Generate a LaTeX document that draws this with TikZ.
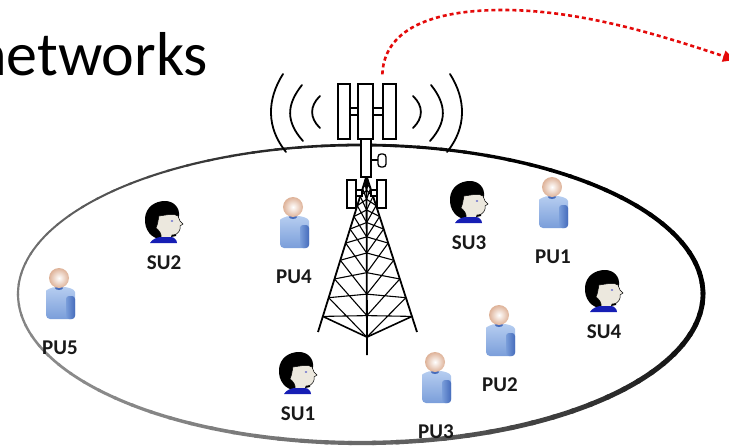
\documentclass[tikz,border=0pt]{standalone}
\usepackage{fontspec}
\setmainfont{Carlito}
\usetikzlibrary{calc,arrows.meta}

\definecolor{skin}{RGB}{236,232,222}
\definecolor{shirt}{RGB}{22,30,180}
\definecolor{pulight}{RGB}{182,205,240}
\definecolor{pumid}{RGB}{122,158,218}
\definecolor{pudark}{RGB}{70,108,188}
\definecolor{peach}{RGB}{222,178,152}
\definecolor{sigred}{RGB}{228,10,10}

\tikzset{
	panel/.style = {draw, fill=white, line width=1.3pt, inner sep=0pt},
	ulabel/.style = {font=\bfseries\fontsize{21}{22}\selectfont, text=black!90, inner sep=0pt},
	wave/.style = {line width=1.8pt, line cap=round},
	sigarrow/.style = {sigred, line width=2.6pt, dash pattern=on 4pt off 3pt,
		-{Triangle[length=12pt,width=11pt]}},
	% secondary user: head with black hair
	suicon/.pic = {
		\fill[black] (-3,17) .. controls (-12,17) and (-20,8) .. (-19,-4)
			.. controls (-18,-15) and (-9,-21) .. (1,-21)
			.. controls (10,-21) and (16,-14) .. (15,-6) -- (12,14) -- cycle;
		\filldraw[fill=skin, draw=black, line width=.5pt] (-5,-6)
			.. controls (3,-7) and (10,-9) .. (14,-6) -- (16,-1) -- (19,2) -- (16,4) -- (16,7)
			.. controls (15,11) and (12,13) .. (8,13) -- (7,16) -- (-3,16)
			.. controls (-2,12) and (-5,8) .. (-8,6) .. controls (-6,2) and (-6,-2) .. (-5,-6) -- cycle;
		\fill[shirt] (-14,21) .. controls (-12,17) and (-6,15) .. (-3,15) -- (7,15)
			.. controls (10,15) and (13,18) .. (13,21) -- cycle;
		\fill[shirt!70!white] (8,-1) ellipse (1.3 and .9);
	},
	% primary user: blue body, round head
	puicon/.pic = {
		\shade[top color=pulight, bottom color=pumid, rounded corners=4pt]
			(-13,41) -- (-13,17) .. controls (-13,12) and (-7,9) .. (1,9)
			.. controls (8,9) and (16,11) .. (16,18) -- (16,41) -- cycle;
		\shade[left color=pumid, right color=pudark, rounded corners=3pt] (7,18) rectangle (16,41);
		\fill[pudark] (0,10) ellipse (4 and 2);
		\shade[inner color=white, outer color=peach] (0,0) circle (10);
	}
}

\begin{document}
\begin{tikzpicture}[x=1pt, y=-1pt]
	\useasboundingbox (0,0) rectangle (729,447);
	\clip (0,0) rectangle (729,447);

	% coverage area, darker and thicker on the right
	\foreach \a in {0,4,...,356}{
		\pgfmathsetmacro\blk{min(100,75+25*cos(\a)+15*sin(\a))}
		\pgfmathsetmacro\lw{3.5+1.3*cos(\a)-0.8*sin(\a)}
		\draw[line width=\lw pt, black!\blk, line cap=round]
			plot[domain=\a:\a+4.5, samples=4] ({360.5+342.5*cos(\x)},{294-149*sin(\x)});
	}

	% radio waves around the antenna
	\foreach \s in {1,-1}{
		\begin{scope}[shift={(366.5,0)}, xscale=\s]
			\draw[wave] (-83.5,74) .. controls (-100,100) and (-100,128) .. (-80.5,152);
			\draw[wave] (-64.5,85) .. controls (-80.5,105) and (-80.5,122) .. (-63.5,141);
			\draw[wave] (-46.5,96) .. controls (-57,106) and (-57,118) .. (-46.5,128);
		\end{scope}
	}

	% lattice tower
	\coordinate (apex) at (366.5,176);
	\coordinate (lfoot) at (318,332);
	\coordinate (rfoot) at (417,332);
	\coordinate (cfoot) at (367,355);
	\draw[line width=1.8pt] (lfoot) -- (apex) -- (rfoot) (apex) -- (cfoot);
	\foreach \s/\t in {0/.04,.04/.08,.08/.13,.13/.19,.19/.26,.26/.34,.34/.43,.43/.54,.54/.66,.66/.78,.78/.9}{
		\draw[line width=1.1pt]
			($(apex)!\s!(lfoot)$) -- ($(apex)!\t!(cfoot)$)
			($(apex)!\s!(cfoot)$) -- ($(apex)!\t!(lfoot)$)
			($(apex)!\s!(rfoot)$) -- ($(apex)!\t!(cfoot)$)
			($(apex)!\s!(cfoot)$) -- ($(apex)!\t!(rfoot)$);
	}
	\draw[line width=1.6pt] ($(apex)!.9!(lfoot)$) -- ($(apex)!.9!(cfoot)$) -- ($(apex)!.9!(rfoot)$);

	% mast, dish and lower panels
	\draw[panel] (361,139) rectangle (371,177);
	\draw[panel] (371,160) -- (378,160);
	\draw[panel, rounded corners=3pt] (378,154) rectangle (386,167);
	\draw[panel] (356,190) rectangle (362,196);
	\draw[panel] (371,190) rectangle (377,196);
	\node[panel, minimum width=9pt, minimum height=28pt] (ll) at (351.5,194) {};
	\node[panel, minimum width=9pt, minimum height=28pt] (lr) at (381.5,194) {};

	% antenna panels
	\draw[panel] (350,108) rectangle (358,115);
	\draw[panel] (373,108) rectangle (383,115);
	\node[panel, minimum width=12pt, minimum height=55pt] (pl) at (344,111.5) {};
	\node[panel, minimum width=15pt, minimum height=55pt] (pm) at (365.5,111.5) {};
	\node[panel, minimum width=13pt, minimum height=55pt] (pr) at (389.5,111.5) {};

	% users
	\foreach \n/\t/\x/\y in {su1/SU1/298/414, su2/SU2/164/263, su3/SU3/469/243, su4/SU4/604/332,
		pu1/PU1/553/257, pu2/PU2/500/385, pu3/PU3/436/432, pu4/PU4/294/277, pu5/PU5/60/348}
		\node[ulabel] (\n) at (\x,\y) {\t};
	\foreach \n in {su1,su2,su3,su4}
		\pic at ($(\n)+(0,-41)$) {suicon};
	\foreach \n in {pu1,pu2,pu3,pu4,pu5}
		\pic at ($(\n)+(-1,-70)$) {puicon};

	% link to the next part
	\coordinate (sink) at (735,60);
	\draw[sigarrow] ([yshift=9pt]pr.north west) .. controls (384,30) and (430,10) .. (503,10)
		.. controls (580,10) and (660,35) .. (sink);

	\node[font=\fontsize{62}{70}\selectfont, anchor=base west, inner sep=0pt] (title) at (-26,75) {networks};
\end{tikzpicture}
\end{document}
